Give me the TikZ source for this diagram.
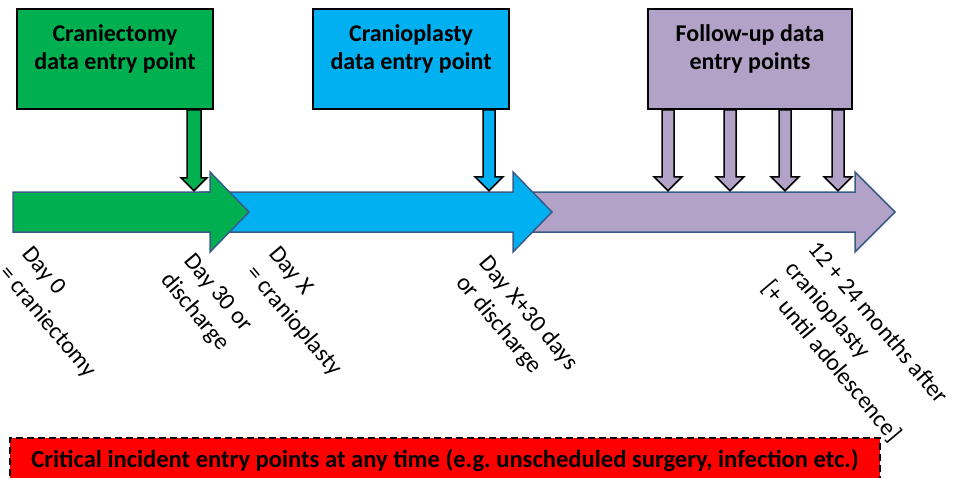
\documentclass[tikz,border=0pt]{standalone}
\usepackage{fontspec}
\setmainfont{Carlito}
\definecolor{entrygreen}{HTML}{00B050}
\definecolor{entryblue}{HTML}{00B0F0}
\definecolor{entrypurple}{HTML}{B3A2C7}
\definecolor{barline}{HTML}{385D8A}
\tikzset{
    entrybox/.style = {draw, line width=1.5pt, minimum width=196pt, minimum height=100pt,
        label = {[boxtext]north:{#1}}},
    boxtext/.style = {anchor=north, align=center, inner xsep=4pt, inner ysep=16pt,
        font=\bfseries\fontsize{24}{28}\selectfont},
    timebar/.style = {draw=barline, line width=1.5pt},
    entryarrow/.style = {draw, line width=1.5pt, line join=miter},
    daylabel/.style = {anchor=north west, rotate=-50, align=left, inner sep=0pt,
        font=\fontsize{24}{30}\selectfont}
}

\begin{document}
\begin{tikzpicture}[x=1pt, y=-1pt]
    \useasboundingbox (0,0) rectangle (960,477);

    % entry boxes
    \node[entrybox={Craniectomy\\data entry point}, fill=entrygreen] (craniectomy) at (115,59) {};
    \node[entrybox={Cranioplasty\\data entry point}, fill=entryblue] (cranioplasty) at (411,59) {};
    \node[entrybox={Follow-up data\\entry points}, fill=entrypurple, minimum width=204pt] (followup) at (750,59) {};

    % time line
    \draw[timebar, fill=entrypurple] (520,192) -- (855,192) -- (855,172) -- (895,212)
        -- (855,252) -- (855,232) -- (520,232) -- cycle;
    \draw[timebar, fill=entryblue] (200,192) -- (513,192) -- (513,172) -- (552,212)
        -- (513,252) -- (513,232) -- (200,232) -- cycle;
    \draw[timebar, fill=entrygreen] (13,192) -- (210,192) -- (210,172) -- (249,212)
        -- (210,252) -- (210,232) -- (13,232) -- cycle;

    % entry arrows
    \draw[entryarrow, fill=entrygreen] ([xshift=79pt]craniectomy.south) ++(-7,0) -- ++(14,0)
        -- ++(0,68) -- ++(6,0) -- ++(-13,13) -- ++(-13,-13) -- ++(6,0) -- cycle;
    \draw[entryarrow, fill=entryblue] ([xshift=78pt]cranioplasty.south) ++(-6,0) -- ++(12,0)
        -- ++(0,67) -- ++(8,0) -- ++(-14,14) -- ++(-14,-14) -- ++(8,0) -- cycle;
    \foreach \dx in {-82,-20,35,88}
        \draw[entryarrow, fill=entrypurple] ([xshift=\dx pt]followup.south) ++(-6,0) -- ++(12,0)
            -- ++(0,67) -- ++(8,0) -- ++(-14,14) -- ++(-14,-14) -- ++(8,0) -- cycle;

    % time points
    \node[daylabel] (day0) at (33,244) {Day 0\\= craniectomy};
    \node[daylabel] (day30) at (195,251) {Day 30 or\\discharge};
    \node[daylabel] (dayx) at (280,244) {Day X\\= cranioplasty};
    \node[daylabel] (dayx30) at (491,253) {Day X+30 days\\or discharge};
    \node[daylabel] (months) at (820,239) {12 + 24 months after\\cranioplasty\\{[+ until adolescence]}};

    % critical incidents
    \node[draw, dashed, dash pattern=on 7pt off 4pt, line width=1.5pt, fill=red,
        minimum width=870pt, minimum height=44pt,
        font=\bfseries\fontsize{24.6}{28}\selectfont] (incident) at (445,460)
        {Critical incident entry points at any time (e.g.\ unscheduled surgery, infection etc.)};
\end{tikzpicture}
\end{document}
